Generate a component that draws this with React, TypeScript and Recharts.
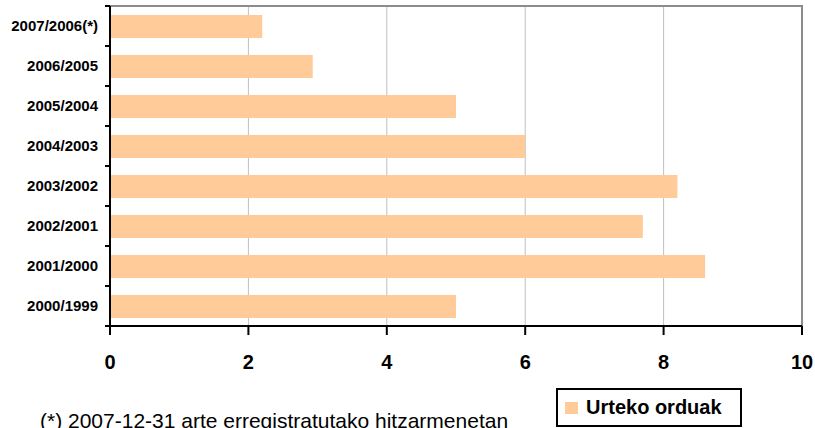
import React from "react";
import {
  BarChart,
  Bar,
  XAxis,
  YAxis,
  CartesianGrid,
  ReferenceArea,
  Legend,
} from "recharts";

// Datuak
const periods = [
  "2007/2006(*)",
  "2006/2005",
  "2005/2004",
  "2004/2003",
  "2003/2002",
  "2002/2001",
  "2001/2000",
  "2000/1999",
];
const hours = [2.2, 2.93, 5.0, 6.0, 8.2, 7.7, 8.6, 5.0];
const xTicks = [0, 2, 4, 6, 8, 10];
const seriesName = "Urteko orduak";
const footnote = "(*) 2007-12-31 arte erregistratutako hitzarmenetan";

const W = 815;
const H = 428;
const AXIS_X = 110;
const PLOT_TOP = 6;
const PLOT_BOTTOM = 326;
const BAR_COLOR = "#FFCC99";
const FONT = "'Liberation Sans', Arial, sans-serif";

const data = periods.map((name, i) => ({ name, value: hours[i] }));
const halfBand = (PLOT_BOTTOM - PLOT_TOP) / periods.length / 2;

// Y ardatzeko etiketa + kategorien arteko marka txikiak
const PeriodTick = (props: any) => {
  const { y, payload } = props;
  return (
    <g>
      <line x1={AXIS_X - 5} x2={AXIS_X} y1={y - halfBand} y2={y - halfBand} stroke="#000" strokeWidth={2} />
      <line x1={AXIS_X - 5} x2={AXIS_X} y1={y + halfBand} y2={y + halfBand} stroke="#000" strokeWidth={2} />
      <text
        x={AXIS_X - 12}
        y={y}
        dy="0.35em"
        textAnchor="end"
        fontFamily={FONT}
        fontWeight="bold"
        fontSize={15}
        fill="#000"
      >
        {payload.value}
      </text>
    </g>
  );
};

const LegendBox = () => (
  <div
    style={{
      boxSizing: "border-box",
      width: 186,
      height: 39,
      border: "2px solid #000",
      display: "flex",
      alignItems: "center",
      paddingLeft: 7,
      fontFamily: FONT,
      fontWeight: "bold",
      fontSize: 20,
      color: "#000",
      background: "#fff",
    }}
  >
    <span style={{ display: "inline-block", width: 13, height: 12, background: BAR_COLOR, marginRight: 8 }} />
    {seriesName}
  </div>
);

export default function App() {
  return (
    <div style={{ position: "relative", width: W, height: H, overflow: "hidden", background: "#fff" }}>
      <style>{"body{margin:0}"}</style>
      <BarChart
        width={W}
        height={H}
        data={data}
        layout="vertical"
        margin={{ top: PLOT_TOP, right: 13, bottom: 0, left: 0 }}
      >
        <CartesianGrid horizontal={false} stroke="#c0c0c0" strokeWidth={1} />
        <ReferenceArea
          x1={0}
          x2={10}
          ifOverflow="visible"
          shape={(p: any) => (
            <path
              d={`M${p.x},${p.y}H${p.x + p.width}V${p.y + p.height}`}
              fill="none"
              stroke="#8c8c8c"
              strokeWidth={2}
            />
          )}
        />
        <XAxis
          type="number"
          domain={[0, 10]}
          ticks={xTicks}
          height={H - PLOT_BOTTOM}
          axisLine={{ stroke: "#000", strokeWidth: 2 }}
          tickLine={{ stroke: "#000", strokeWidth: 2 }}
          tickSize={9}
          tickMargin={20}
          tick={{ fill: "#000", fontFamily: FONT, fontWeight: "bold", fontSize: 20 }}
        />
        <YAxis
          type="category"
          dataKey="name"
          width={AXIS_X}
          axisLine={{ stroke: "#000", strokeWidth: 2 }}
          tickLine={false}
          tick={<PeriodTick />}
          interval={0}
        />
        <Legend
          layout="horizontal"
          verticalAlign="middle"
          align="center"
          wrapperStyle={{ left: 556, top: 388, width: 186, height: 39 }}
          content={<LegendBox />}
        />
        <Bar dataKey="value" name={seriesName} fill={BAR_COLOR} barSize={23} isAnimationActive={false} />
      </BarChart>
      <div
        style={{
          position: "absolute",
          left: 40,
          top: 409,
          fontFamily: FONT,
          fontSize: 21,
          color: "#000",
          whiteSpace: "nowrap",
        }}
      >
        {footnote}
      </div>
    </div>
  );
}
